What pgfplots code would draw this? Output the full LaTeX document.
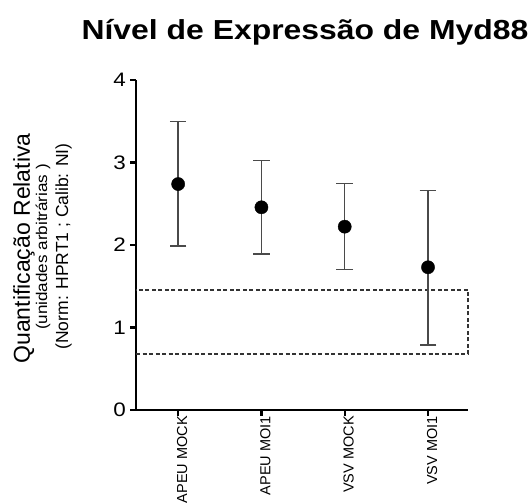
\documentclass[border=0pt]{standalone}
\usepackage{pgfplots}
\pgfplotsset{compat=1.18}
\usepackage{fontspec}
\setmainfont{Liberation Sans}
\definecolor{errgray}{HTML}{4A4A4A}
\definecolor{boxgray}{HTML}{333333}
\begin{document}
\begin{tikzpicture}[x=1pt,y=1pt]
\useasboundingbox (0,0) rectangle (531,504);
\begin{axis}[
  at={(136pt,94pt)}, anchor=south west,
  scale only axis, width=332pt, height=330pt,
  xmin=-0.506, xmax=3.48, ymin=0, ymax=4,
  axis x line=bottom, axis y line=left,
  axis line style={-, line width=2.4pt, black},
  every outer x axis line/.append style={line width=2.4pt},
  every outer y axis line/.append style={line width=2.4pt},
  tick align=outside, major tick length=6pt,
  every tick/.style={line width=2.4pt, black},
  xtick={0,1,2,3},
  xticklabels={APEU MOCK, APEU MOI1, VSV MOCK, VSV MOI1},
  xticklabel style={rotate=90, anchor=east, inner sep=0pt, font=\fontsize{14.5}{16}\selectfont, yshift=-4pt},
  ytick={0,1,2,3,4},
  yticklabels={\scalebox{1.15}[1]{0},\scalebox{1.15}[1]{1},\scalebox{1.15}[1]{2},\scalebox{1.15}[1]{3},\scalebox{1.15}[1]{4}},
  yticklabel style={anchor=east, inner sep=0pt, font=\fontsize{19.5}{20}\selectfont, xshift=-4pt},
  clip=false,
]
\addplot[boxgray, line width=1.3pt, dash pattern=on 4pt off 2.5pt] coordinates {
  (-0.506,0.679) (3.48,0.679) (3.48,1.455) (-0.506,1.455)};
\addplot[only marks, mark=*, mark size=6.6pt, black,
  error bars/.cd, y dir=both, y explicit,
  error bar style={errgray, line width=1.4pt},
  error mark options={errgray, line width=1.4pt, mark size=8.3pt, rotate=90}]
 coordinates {
  (0,2.739) += (0,0.761) -= (0,0.751)
  (1,2.457) += (0,0.565) -= (0,0.566)
  (2,2.222) += (0,0.521) -= (0,0.522)
  (3,1.730) += (0,0.933) -= (0,0.942)
 };
\end{axis}
\node[anchor=base, inner sep=0pt] at (305,464.7) {\fontsize{27.5}{30}\selectfont\bfseries\scalebox{1.16}[1]{Nível de Expressão de Myd88}};
\node[anchor=base, inner sep=0pt, rotate=90] at (30,255.5) {\fontsize{23}{24}\selectfont Quantificação Relativa};
\node[anchor=base, inner sep=0pt, rotate=90] at (47,257) {\fontsize{15.5}{16}\selectfont\scalebox{1.1}[1]{(unidades arbitrárias )}};
\node[anchor=base, inner sep=0pt, rotate=90] at (68,257.5) {\fontsize{17.5}{18}\selectfont (Norm: HPRT1 ; Calib: NI)};
\end{tikzpicture}
\end{document}
